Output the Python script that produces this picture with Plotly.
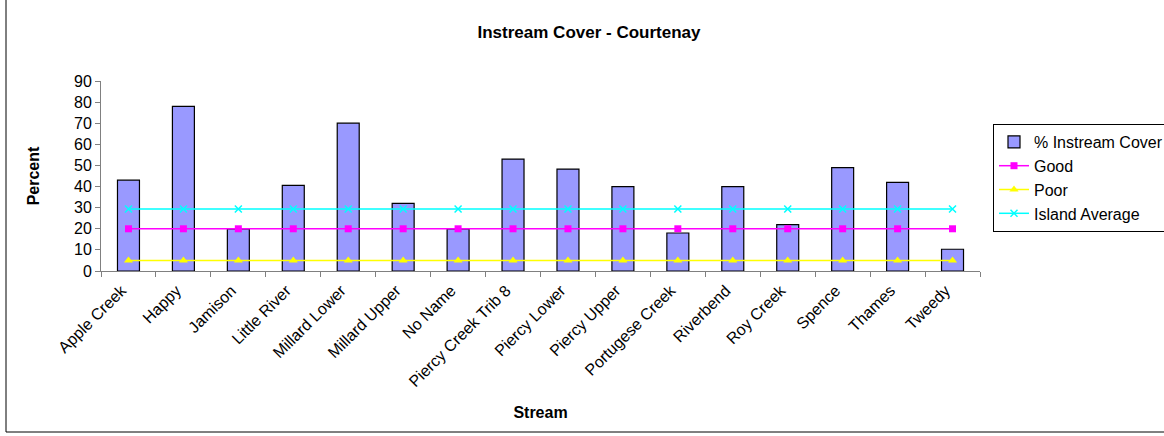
import plotly.graph_objects as go

streams = ["Apple Creek", "Happy", "Jamison", "Little River", "Millard Lower",
           "Millard Upper", "No Name", "Piercy Creek Trib 8", "Piercy Lower",
           "Piercy Upper", "Portugese Creek", "Riverbend", "Roy Creek", "Spence",
           "Thames", "Tweedy"]
instream_cover = [43, 78, 20, 40.6, 70, 32, 20, 53, 48.3, 40, 18, 40, 22, 49, 42, 10.3]
good = [20] * 16
poor = [5] * 16
island_average = [29.4] * 16

FONT = "Liberation Sans, Arial, sans-serif"
FS = 16

fig = go.Figure()
fig.add_trace(go.Bar(x=streams, y=instream_cover, name="% Instream Cover",
                     marker=dict(color="#9999FF", line=dict(color="black", width=1.2))))
fig.add_trace(go.Scatter(x=streams, y=good, name="Good", mode="lines+markers",
                         line=dict(color="#FF00FF", width=1.5),
                         marker=dict(symbol="square", size=7, color="#FF00FF")))
fig.add_trace(go.Scatter(x=streams, y=poor, name="Poor", mode="lines+markers",
                         line=dict(color="#FFFF00", width=1.5),
                         marker=dict(symbol="triangle-up", size=8, color="#FFFF00")))
fig.add_trace(go.Scatter(x=streams, y=island_average, name="Island Average", mode="lines+markers",
                         line=dict(color="#00FFFF", width=1.5),
                         marker=dict(symbol="x-thin", size=7, color="#00FFFF",
                                     line=dict(color="#00FFFF", width=1.5))))

L, R, T, B = 101, 184, 81, 165
W, H = 1164, 436
pw, ph = W - L - R, H - T - B

fig.update_layout(
    width=W, height=H,
    margin=dict(l=L, r=R, t=T, b=B, autoexpand=False),
    paper_bgcolor="white", plot_bgcolor="white",
    font=dict(family=FONT, size=FS, color="black"),
    bargap=0.6,
    showlegend=True,
    title=dict(text="<b>Instream Cover - Courtenay</b>", x=589 / W, xanchor="center",
               y=1 - 32 / H, yanchor="middle", font=dict(size=17, family=FONT, color="black")),
    legend=dict(x=(993 - L) / pw, xanchor="left", y=(H - B - 124) / ph, yanchor="top",
                bordercolor="black", borderwidth=1, bgcolor="white",
                font=dict(size=FS, family=FONT, color="black"),
                tracegroupgap=0, itemwidth=30),
    xaxis=dict(range=[-0.5, 15.5], tickangle=-45, ticks="outside", ticklen=5,
               tickson="boundaries", tickcolor="#808080",
               ticklabelshift=-7, ticklabelstandoff=3,
               showline=True, linecolor="#808080", linewidth=1, showgrid=False,
               title=dict(text="<b>Stream</b>", font=dict(size=FS, family=FONT), standoff=17),
               tickfont=dict(size=FS, family=FONT)),
    yaxis=dict(range=[0, 90], dtick=10, ticks="outside", ticklen=5, tickcolor="#808080",
               showline=True, linecolor="#808080", linewidth=1, showgrid=False, zeroline=False,
               title=dict(text="<b>Percent</b>", font=dict(size=FS, family=FONT), standoff=30),
               tickfont=dict(size=FS, family=FONT)),
)

# outer chart border
fig.add_shape(type="rect", xref="paper", yref="paper",
              x0=(6 - L) / pw, x1=(1170 - L) / pw,
              y0=(H - B - 432) / ph, y1=(H - B + 2) / ph,
              line=dict(color="black", width=1), fillcolor="rgba(0,0,0,0)", layer="below")

fig.write_html("out.html")
